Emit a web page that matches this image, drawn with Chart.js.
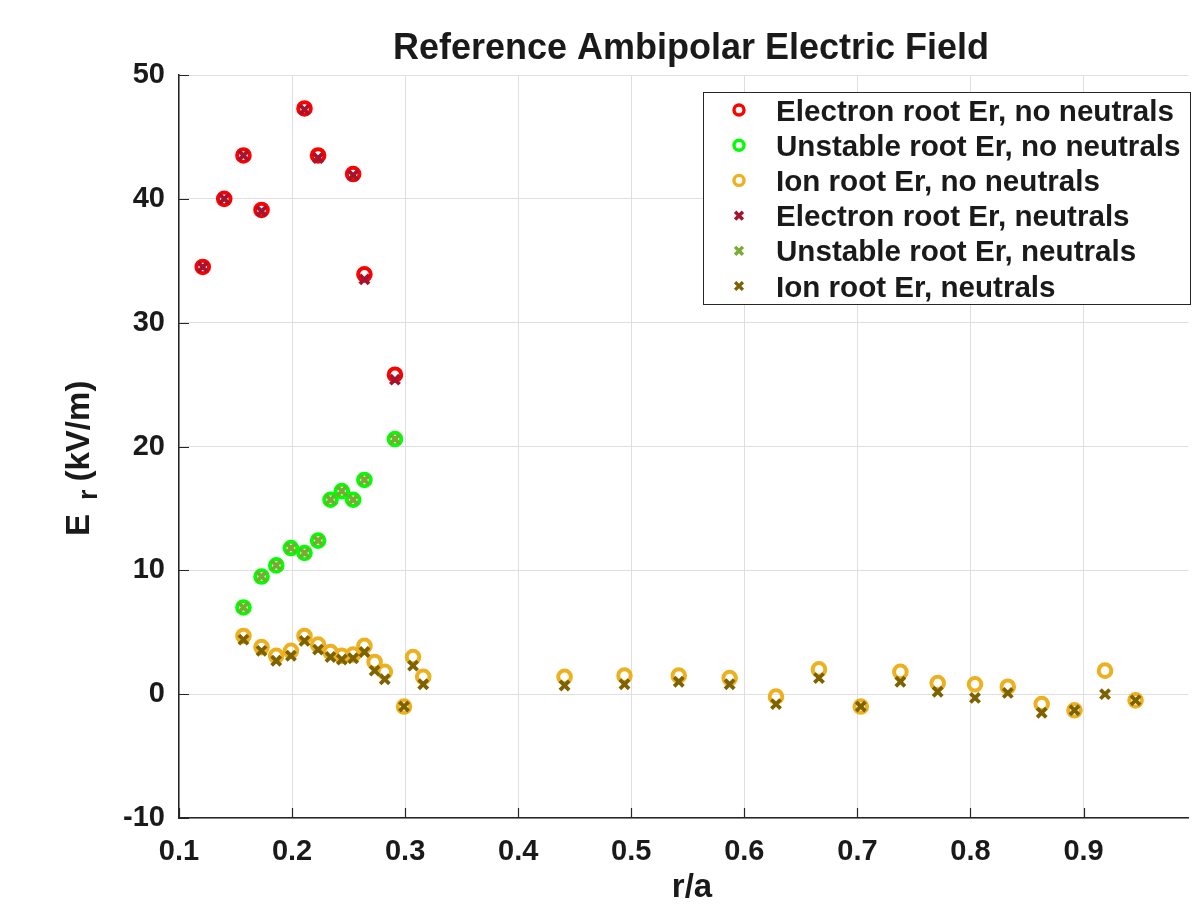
<!DOCTYPE html>
<html><head><meta charset="utf-8">
<script src="https://cdn.jsdelivr.net/npm/chart.js@4.4.1/dist/chart.umd.min.js"></script>
<style>html,body{margin:0;padding:0;background:#fff;overflow:hidden}canvas{display:block}</style>
</head><body>
<canvas id="c" width="1199" height="905"></canvas>
<script>
// ---- text ----
const titleText = 'Reference Ambipolar Electric Field';
const xTitle = 'r/a';
const yTitleMain = 'E';
const yTitleSub = 'r';
const yTitleUnit = '(kV/m)';

// ---- ticks ----
const xTicks = [0.1, 0.2, 0.3, 0.4, 0.5, 0.6, 0.7, 0.8, 0.9];
const xTickLabels = ['0.1', '0.2', '0.3', '0.4', '0.5', '0.6', '0.7', '0.8', '0.9'];
const yTicks = [-10, 0, 10, 20, 30, 40, 50];
const yTickLabels = ['-10', '0', '10', '20', '30', '40', '50'];

// ---- series labels ----
const seriesLabels = [
  'Electron root Er, no neutrals',
  'Unstable root Er, no neutrals',
  'Ion root Er, no neutrals',
  'Electron root Er, neutrals',
  'Unstable root Er, neutrals',
  'Ion root Er, neutrals'
];

// ---- data ----
const electronR = [0.121, 0.140, 0.157, 0.173, 0.211, 0.223, 0.254, 0.264, 0.291];
const electronNoNeutrals = [34.5, 40.0, 43.5, 39.1, 47.3, 43.5, 42.0, 33.9, 25.8];
const electronNeutrals   = [34.5, 40.0, 43.5, 39.0, 47.2, 43.3, 41.9, 33.5, 25.4];

const unstableR = [0.157, 0.173, 0.186, 0.199, 0.211, 0.223, 0.234, 0.244, 0.254, 0.264, 0.291];
const unstableNoNeutrals = [7.0, 9.5, 10.4, 11.8, 11.4, 12.4, 15.7, 16.4, 15.7, 17.3, 20.6];
const unstableNeutrals   = [7.0, 9.5, 10.4, 11.8, 11.4, 12.4, 15.7, 16.4, 15.7, 17.3, 20.6];

const ionR = [0.157, 0.173, 0.186, 0.199, 0.211, 0.223, 0.234, 0.244, 0.254, 0.264, 0.273, 0.282,
              0.299, 0.307, 0.316, 0.441, 0.494, 0.542, 0.587, 0.628, 0.666, 0.703, 0.738, 0.771,
              0.804, 0.833, 0.863, 0.892, 0.919, 0.946];
const ionNoNeutrals = [4.7, 3.8, 3.1, 3.5, 4.7, 4.0, 3.4, 3.1, 3.2, 3.9, 2.6, 1.8,
                       -1.0, 3.0, 1.4, 1.4, 1.5, 1.5, 1.3, -0.2, 2.0, -1.0, 1.8, 0.9,
                       0.8, 0.6, -0.8, -1.3, 1.9, -0.5];
const ionNeutrals   = [4.4, 3.5, 2.7, 3.1, 4.3, 3.6, 3.0, 2.8, 2.9, 3.4, 1.9, 1.2,
                       -1.0, 2.3, 0.8, 0.7, 0.8, 1.0, 0.8, -0.8, 1.3, -1.0, 1.0, 0.2,
                       -0.3, 0.1, -1.5, -1.3, 0.0, -0.5];

// ---- styles ----
const colors = ['#FF0000', '#00FF00', '#EDB120', '#A2142F', '#77AC30', '#7E6200'];
const FONT = '"Liberation Sans", Arial, Helvetica, sans-serif';
const INK = '#1a1a1a';
const AXIS = '#262626';

function pts(xs, ys) { return xs.map((x, i) => ({ x: x, y: ys[i] })); }

function circleSet(label, data, color) {
  return { label, data, showLine: false, pointStyle: 'circle', pointRadius: 6.3, pointBorderWidth: 4,
           borderColor: color, pointBorderColor: color, backgroundColor: 'rgba(0,0,0,0)',
           pointBackgroundColor: 'rgba(0,0,0,0)', order: 1 };
}
function crossSet(label, data, color) {
  return { label, data, showLine: false, pointStyle: 'crossRot', pointRadius: 6.5, pointBorderWidth: 3.8,
           borderColor: color, pointBorderColor: color, backgroundColor: color,
           pointBackgroundColor: color, order: 0 };
}

const datasets = [
  circleSet(seriesLabels[0], pts(electronR, electronNoNeutrals), colors[0]),
  circleSet(seriesLabels[1], pts(unstableR, unstableNoNeutrals), colors[1]),
  circleSet(seriesLabels[2], pts(ionR, ionNoNeutrals), colors[2]),
  crossSet(seriesLabels[3], pts(electronR, electronNeutrals), colors[3]),
  crossSet(seriesLabels[4], pts(unstableR, unstableNeutrals), colors[4]),
  crossSet(seriesLabels[5], pts(ionR, ionNeutrals), colors[5])
];

const decor = {
  id: 'decor',
  afterDraw(chart) {
    const ctx = chart.ctx;
    const xs = chart.scales.x, ys = chart.scales.y;
    const area = chart.chartArea;
    ctx.save();
    // inward tick marks
    ctx.strokeStyle = AXIS; ctx.lineWidth = 1.2;
    ctx.beginPath();
    xTicks.forEach(v => { const px = Math.round(xs.getPixelForValue(v)) + 0.5;
      ctx.moveTo(px, area.bottom); ctx.lineTo(px, area.bottom - 10); });
    yTicks.forEach(v => { const py = Math.round(ys.getPixelForValue(v)) + 0.5;
      ctx.moveTo(area.left, py); ctx.lineTo(area.left + 10, py); });
    ctx.stroke();

    // title
    ctx.fillStyle = INK;
    ctx.textAlign = 'center'; ctx.textBaseline = 'alphabetic';
    ctx.font = 'bold 36px ' + FONT;
    ctx.fillText(titleText, 691, 59);

    // x title
    ctx.font = 'bold 33px ' + FONT;
    ctx.fillText(xTitle, 692, 897);

    // y title (rotated, with subscript)
    ctx.save();
    ctx.translate(89, 536);
    ctx.rotate(-Math.PI / 2);
    ctx.textAlign = 'left';
    ctx.font = 'bold 33px ' + FONT;
    ctx.fillText(yTitleMain, 0, 0);
    const wE = ctx.measureText(yTitleMain).width;
    ctx.font = 'bold 27px ' + FONT;
    ctx.fillText(yTitleSub, wE + 14, 8);
    const wR = ctx.measureText(yTitleSub).width;
    ctx.font = 'bold 33px ' + FONT;
    ctx.fillText(yTitleUnit, wE + 14 + wR + 8, 0);
    ctx.restore();

    // legend
    const bx = 703.5, by = 92.5, bw = 487, bh = 212;
    ctx.fillStyle = '#ffffff';
    ctx.fillRect(bx, by, bw, bh);
    ctx.strokeStyle = AXIS; ctx.lineWidth = 1;
    ctx.strokeRect(bx, by, bw, bh);
    chart.data.datasets.forEach((ds, i) => {
      const cy = 110 + 35.2 * i;
      const isCircle = ds.pointStyle === 'circle';
      ctx.strokeStyle = ds.borderColor;
      ctx.fillStyle = isCircle ? 'rgba(0,0,0,0)' : ds.borderColor;
      ctx.lineWidth = 3.4;
      Chart.helpers.drawPoint(ctx, { pointStyle: ds.pointStyle, radius: isCircle ? 5 : 5.5,
        borderWidth: ctx.lineWidth, rotation: 0 }, 739, cy);
      ctx.fillStyle = INK;
      ctx.font = 'bold 29.6px ' + FONT;
      ctx.textAlign = 'left';
      ctx.textBaseline = 'alphabetic';
      ctx.fillText(ds.label, 776, cy + 10.5);
    });
    ctx.restore();
  }
};

new Chart(document.getElementById('c'), {
  type: 'scatter',
  data: { datasets },
  options: {
    responsive: false,
    devicePixelRatio: 1,
    animation: false,
    events: [],
    layout: { padding: { top: 75, left: 0, right: 0, bottom: 0 } },
    plugins: { legend: { display: false }, title: { display: false }, tooltip: { enabled: false } },
    scales: {
      x: {
        type: 'linear', min: 0.1, max: 0.993,
        afterBuildTicks: s => { s.ticks = xTicks.map(v => ({ value: v })); },
        afterFit: s => { s.height = 87; },
        grid: { color: '#dfdfdf', lineWidth: 1, drawTicks: false },
        border: { color: AXIS, width: 1.5 },
        ticks: { padding: 17, color: INK, font: { family: FONT, size: 29, weight: 'bold' },
                 maxRotation: 0, autoSkip: false,
                 callback: (v) => xTickLabels[xTicks.indexOf(+v.toFixed(1))] }
      },
      y: {
        type: 'linear', min: -10, max: 50,
        afterBuildTicks: s => { s.ticks = yTicks.map(v => ({ value: v })); },
        afterFit: s => { s.width = 179; },
        grid: { color: '#dfdfdf', lineWidth: 1, drawTicks: false },
        border: { color: AXIS, width: 1.5 },
        ticks: { padding: 14, color: INK, font: { family: FONT, size: 29, weight: 'bold' },
                 autoSkip: false,
                 callback: (v) => yTickLabels[yTicks.indexOf(v)] }
      }
    }
  },
  plugins: [decor]
});
</script>
</body></html>
